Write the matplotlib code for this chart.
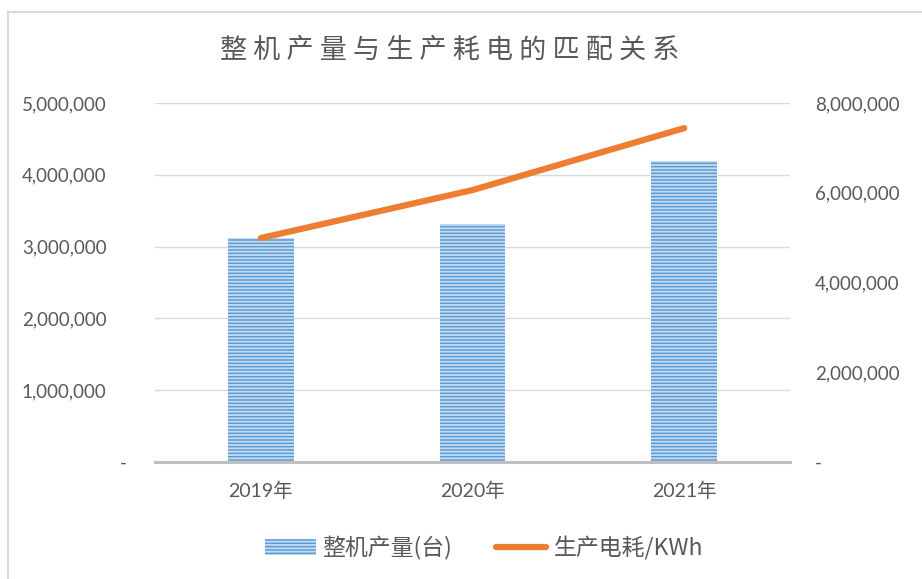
import matplotlib
matplotlib.use("Agg")
import matplotlib.pyplot as plt
from matplotlib.lines import Line2D
from matplotlib.transforms import ScaledTranslation

plt.rcParams['font.family'] = ['Lato', 'Noto Sans CJK SC', 'DejaVu Sans']
plt.rcParams['hatch.linewidth'] = 1.3

categories = ['2019年', '2020年', '2021年']
output_units = [3120000, 3310000, 4190000]
energy_kwh = [4990000, 6060000, 7440000]
left_ticks = [0, 1000000, 2000000, 3000000, 4000000, 5000000]
right_ticks = [0, 2000000, 4000000, 6000000, 8000000]
title = '整 机 产 量 与 生 产 耗 电 的 匹 配 关 系'
bar_label = '整机产量(台)'
line_label = '生产电耗/KWh'

grey = '#595959'
fig = plt.figure(figsize=(9.22, 5.79), dpi=100)
ax = fig.add_axes([155/922, 1-462/579, 635/922, 359/579])
ax2 = ax.twinx()

x = list(range(len(categories)))
bars = ax.bar(x, output_units, width=0.31, color='#5B9BD5', edgecolor='#C5DCF1',
              hatch='-----', linewidth=0, label=bar_label, zorder=2)
ln, = ax2.plot(x, energy_kwh, color='#ED7D31', lw=4.5, solid_capstyle='round',
               label=line_label, zorder=3)

ax.set_xlim(-0.5, 2.5)
ax.set_ylim(0, 5000000)
ax2.set_ylim(0, 8000000)

def fmt(v):
    return '-' if v == 0 else f'{v:,.0f}'

ax.set_yticks(left_ticks)
ax.set_yticklabels([fmt(v) for v in left_ticks])
ax2.set_yticks(right_ticks)
ax2.set_yticklabels([fmt(v) for v in right_ticks])
ax.set_xticks(x)
ax.set_xticklabels(categories)

ax.yaxis.grid(True, color='#D9D9D9', lw=1)
ax.set_axisbelow(True)
for a in (ax, ax2):
    for s in ('left', 'right', 'top'):
        a.spines[s].set_visible(False)
    a.tick_params(length=0, colors=grey, labelsize=13.5)
ax.spines['bottom'].set_color('#BFBFBF')
ax.spines['bottom'].set_linewidth(2.2)
ax2.spines['bottom'].set_visible(False)
ax.tick_params(axis='y', pad=35)
ax.tick_params(axis='x', pad=14, labelsize=14)
ax2.tick_params(axis='y', pad=18)

# shift zero dash on left axis like accounting format
fig.canvas.draw()
lab0 = ax.get_yticklabels()[0]
lab0.set_transform(lab0.get_transform() + ScaledTranslation(0.2, 0, fig.dpi_scale_trans))

fig.text(0.488, 1-50/579, title, ha='center', va='center', fontsize=19.5, color=grey,
         family=['Noto Sans CJK SC', 'DejaVu Sans'])

leg = fig.legend(handles=[bars, ln], labels=[bar_label, line_label], loc='center',
                 bbox_to_anchor=(0.525, 1-548/579), ncol=2, frameon=False,
                 labelcolor=grey, handlelength=2.2, columnspacing=1.9, handletextpad=0.3,
                 prop={'family': ['Noto Sans CJK SC', 'DejaVu Sans'], 'size': 16.5})

fig.add_artist(Line2D([8/922, 8/922], [0, 1-12/579], transform=fig.transFigure, color='#D9D9D9', lw=1.5))
fig.add_artist(Line2D([8/922, 1], [1-12/579, 1-12/579], transform=fig.transFigure, color='#D9D9D9', lw=1.5))

fig.savefig('out.png', dpi=100)
